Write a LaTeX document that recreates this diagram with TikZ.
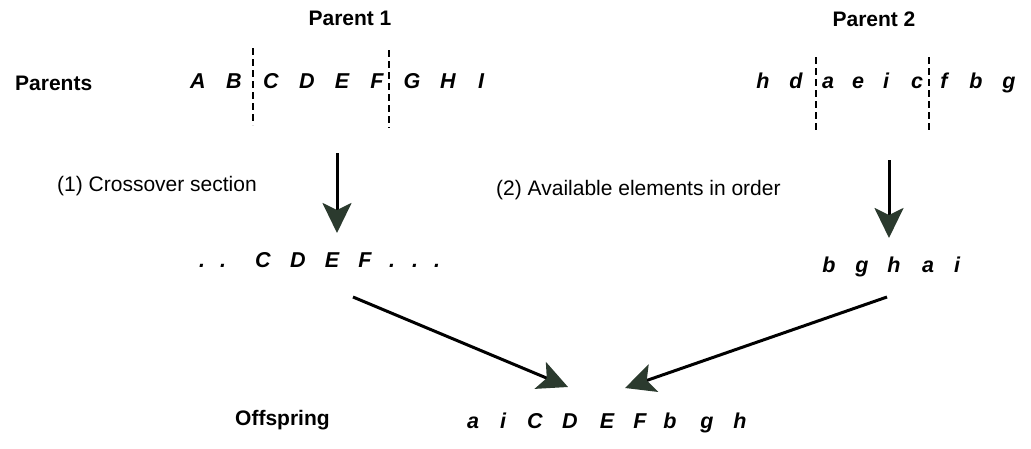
\documentclass[tikz,border=0pt]{standalone}
\usepackage{fontspec}
\setmainfont{Liberation Sans}
\usetikzlibrary{arrows.meta}
\definecolor{tipgreen}{HTML}{2B3A2E}
\tikzset{
  lab/.style={font=\fontsize{21}{25}\selectfont, inner sep=0pt, anchor=base west},
  blab/.style={font=\fontsize{21}{25}\selectfont\bfseries, inner sep=0pt, anchor=base west},
  gene/.style={font=\fontsize{21.5}{25}\selectfont\bfseries\itshape, inner sep=0pt, anchor=base},
  cut/.style={line width=2.5pt, dash pattern=on 7pt off 4pt},
  flow/.style={line width=3pt, -{Stealth[length=30pt,width=29pt,inset=7pt,color=tipgreen]}}
}
\begin{document}
\begin{tikzpicture}[x=1pt,y=-1pt]
\useasboundingbox (0,0) rectangle (1031,448);
% headings
\node[blab, anchor=base] (par1) at (350,25) {Parent 1};
\node[blab, anchor=base] (par2) at (874,26) {Parent 2};
\node[blab] (parents) at (15,90) {Parents};
\node[blab] (off) at (235,425) {Offspring};
\node[lab] (step1) at (57,191) {(1) Crossover section};
\node[lab] (step2) at (496,195) {(2) Available elements in order};
% parent 1
\foreach \t/\x [count=\i] in {A/198,B/234,C/271,D/307,E/342,F/377,G/412,H/448,I/481}
  \node[gene] (pa\i) at (\x,88) {\t};
% parent 2
\foreach \t/\x [count=\i] in {h/763,d/796,a/828,e/858,i/886,c/917,f/944,b/976,g/1009}
  \node[gene] (pb\i) at (\x,88) {\t};
% cut points
\draw[cut] (253,48) -- (253,125);
\draw[cut] (389,50) -- (389,128);
\draw[cut] (816,57) -- (816,132);
\draw[cut] (929,57) -- (929,132);
% crossover section
\foreach \t/\x [count=\i] in {./202,./223,C/263,D/298,E/332,F/365,./392,./415,./437}
  \node[gene] (cs\i) at (\x,267) {\t};
% available elements
\foreach \t/\x [count=\i] in {b/829,g/862,h/894,a/928,i/957}
  \node[gene] (av\i) at (\x,272) {\t};
% offspring
\foreach \t/\x [count=\i] in {a/473,i/503,C/535,D/570,E/607,F/640,b/670,g/707,h/740}
  \node[gene] (os\i) at (\x,428) {\t};
% connectors
\coordinate (a1s) at (337,153);
\coordinate (a1e) at (337,233);
\coordinate (a2s) at (889,160);
\coordinate (a2e) at (889,238);
\coordinate (a3s) at (353,297);
\coordinate (a3e) at (568,387);
\coordinate (a4s) at (887,297);
\coordinate (a4e) at (625,388);
\draw[flow] (a1s) -- (a1e);
\draw[flow] (a2s) -- (a2e);
\draw[flow] (a3s) -- (a3e);
\draw[flow] (a4s) -- (a4e);
\end{tikzpicture}
\end{document}
